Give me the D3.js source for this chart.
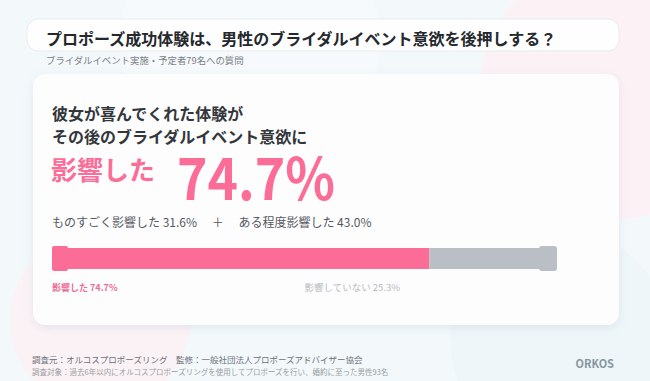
<!DOCTYPE html>
<meta charset="utf-8">
<style>
body { margin: 0; background: #f3f8fb; }
svg text { font-family: "Noto Sans CJK JP", "Noto Sans", sans-serif; }
</style>
<body>
<div id="chart"></div>
<script src="https://cdn.jsdelivr.net/npm/d3@7"></script>
<script>
var title = "プロポーズ成功体験は、男性のブライダルイベント意欲を後押しする？";
var subtitle = "ブライダルイベント実施・予定者79名への質問";
var leadLines = ["彼女が喜んでくれた体験が", "その後のブライダルイベント意欲に"];
var headLabel = "影響した";
var categories = ["影響した", "影響していない"];
var values = [74.7, 25.3];
var breakdownLabels = ["ものすごく影響した", "ある程度影響した"];
var breakdownValues = [31.6, 43.0];
var footnotes = ["調査元：オルコスプロポーズリング　監修：一般社団法人プロポーズアドバイザー協会",
                 "調査対象：過去6年以内にオルコスプロポーズリングを使用してプロポーズを行い、婚約に至った男性93名"];
var brand = "ORKOS";

var W = 650, H = 381;
var colors = ["#fb6d97", "#b9bfc5"];
var fmt = d3.format(".1f");

var svg = d3.select("#chart").append("svg").attr("width", W).attr("height", H);

var defs = svg.append("defs");
var sh = defs.append("filter").attr("id", "shadow").attr("x", "-10%").attr("y", "-10%").attr("width", "120%").attr("height", "130%");
sh.append("feDropShadow").attr("dx", 0).attr("dy", 3).attr("stdDeviation", 5).attr("flood-color", "#8a9fb5").attr("flood-opacity", 0.18);

// background blobs
svg.append("rect").attr("width", W).attr("height", H).attr("fill", "#f3f8fb");
svg.append("circle").attr("cx", 610).attr("cy", 90).attr("r", 130).attr("fill", "#fcf1f5");
svg.append("circle").attr("cx", 250).attr("cy", 40).attr("r", 130).attr("fill", "#f6fafc");
svg.append("circle").attr("cx", 100).attr("cy", 320).attr("r", 90).attr("fill", "#fbf2f6");
svg.append("circle").attr("cx", 560).attr("cy", 340).attr("r", 110).attr("fill", "#eef6f9");

// title box
svg.append("rect").attr("x", 27).attr("y", 19).attr("width", 592).attr("height", 32).attr("rx", 11)
  .attr("fill", "#fefefe").attr("stroke", "#e6ecf0").attr("stroke-width", 1);
svg.append("text").attr("x", 46).attr("y", 45).attr("font-size", 16).attr("font-weight", 700)
  .attr("fill", "#25282c").text(title);
svg.append("text").attr("x", 46).attr("y", 64).attr("font-size", 9.4).attr("fill", "#7b7f84").text(subtitle);

// card
svg.append("rect").attr("x", 33).attr("y", 74).attr("width", 586).attr("height", 251).attr("rx", 12)
  .attr("fill", "#fdfdfe").attr("filter", "url(#shadow)");

svg.selectAll(".lead").data(leadLines).enter().append("text").attr("class", "lead")
  .attr("x", 52).attr("y", function(d, i) { return 120 + i * 23; })
  .attr("font-size", 16).attr("font-weight", 700).attr("fill", "#33363a").text(function(d) { return d; });

svg.append("text").attr("x", 51).attr("y", 180).attr("font-size", 26).attr("font-weight", 700)
  .attr("fill", colors[0]).text(headLabel);
svg.append("text").attr("x", 177).attr("y", 200).attr("font-family", "Roboto, sans-serif")
  .attr("font-size", 58).attr("font-weight", 700).attr("fill", colors[0])
  .attr("textLength", 158).attr("lengthAdjust", "spacingAndGlyphs")
  .text(fmt(values[0]) + "%");

svg.append("text").attr("x", 52).attr("y", 227).attr("font-size", 12).attr("fill", "#55595e")
  .text(breakdownLabels[0] + " " + fmt(breakdownValues[0]) + "%　 ＋　 " + breakdownLabels[1] + " " + fmt(breakdownValues[1]) + "%");

// bar
var x = d3.scaleLinear().domain([0, 100]).range([52, 557]);
var stack = [];
var acc = 0;
values.forEach(function(v, i) { stack.push({ name: categories[i], v: v, x0: acc, x1: acc + v, i: i }); acc += v; });

var barY = 248, barH = 21;
// end caps
svg.append("rect").attr("x", x(0)).attr("y", barY - 2).attr("width", 16).attr("height", barH + 4).attr("rx", 2).attr("fill", colors[0]);
svg.append("rect").attr("x", x(100) - 18).attr("y", barY - 2).attr("width", 18).attr("height", barH + 4).attr("rx", 3).attr("fill", colors[1]);

svg.selectAll(".seg").data(stack).enter().append("rect").attr("class", "seg")
  .attr("x", function(d) { return x(d.x0); })
  .attr("y", barY)
  .attr("width", function(d) { return x(d.x1) - x(d.x0); })
  .attr("height", barH)
  .attr("fill", function(d) { return colors[d.i]; });

svg.selectAll(".seglab").data(stack).enter().append("text").attr("class", "seglab")
  .attr("x", function(d) { return d.i === 0 ? x(0) : x(50); })
  .attr("y", 291)
  .attr("font-size", function(d) { return d.i === 0 ? 9 : 9.5; })
  .attr("font-weight", function(d) { return d.i === 0 ? 700 : 400; })
  .attr("fill", function(d) { return d.i === 0 ? "#ec6d97" : "#b8bcc1"; })
  .text(function(d) { return d.name + " " + fmt(d.v) + "%"; });

// footer
svg.append("text").attr("x", 32).attr("y", 363).attr("font-size", 8.5).attr("fill", "#6d7177").text(footnotes[0]);
svg.append("text").attr("x", 32).attr("y", 375).attr("font-size", 7.5).attr("fill", "#9a9ea3").text(footnotes[1]);
svg.append("text").attr("x", 614).attr("y", 368).attr("text-anchor", "end").attr("font-family", "'Open Sans', sans-serif")
  .attr("font-size", 11).attr("font-weight", 700).attr("fill", "#8797a3").text(brand);
</script>
</body>
